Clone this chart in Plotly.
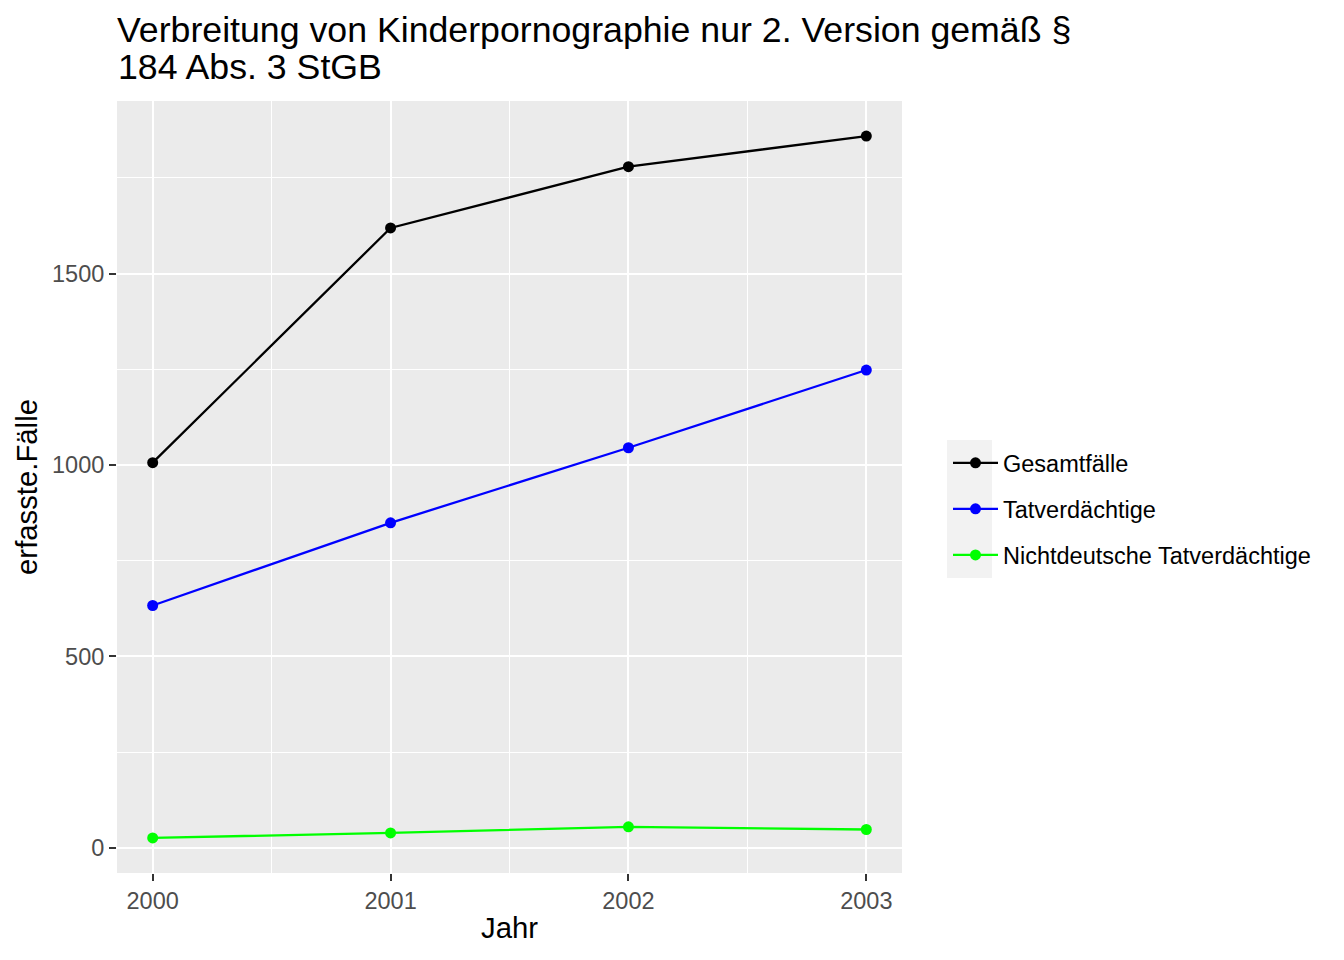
import plotly.graph_objects as go

years = [2000, 2001, 2002, 2003]
gesamtfaelle = [1006, 1619, 1779, 1859]
tatverdaechtige = [633, 849, 1045, 1248]
nichtdeutsche = [26, 39, 55, 48]

series_names = ["Gesamtfälle", "Tatverdächtige", "Nichtdeutsche Tatverdächtige"]
series_values = [gesamtfaelle, tatverdaechtige, nichtdeutsche]
series_colors = ["#000000", "#0000FF", "#00FF00"]

x_ticks = [2000, 2001, 2002, 2003]
y_ticks = [0, 500, 1000, 1500]

FONT = "Liberation Sans, Arial, Helvetica, sans-serif"

fig = go.Figure()
for name, vals, col in zip(series_names, series_values, series_colors):
    fig.add_trace(go.Scatter(
        x=years, y=vals, name=name, legendgroup=name,
        mode="lines+markers",
        line=dict(color=col, width=2.3),
        marker=dict(color=col, size=11),
    ))

all_vals = [v for s in series_values for v in s]
lo, hi = min(all_vals), max(all_vals)
pad = (hi - lo) * 0.05

OFF = 8  # page body margin
W, H = 1344, 960
L, T = 117 - OFF, 101 - OFF
R, B = W - (902 - OFF), H - (873 - OFF)
pw, ph = W - L - R, H - T - B

def px_x(p):
    return (p - OFF - L) / pw

def px_y(p):
    return (H - B - (p - OFF)) / ph

fig.update_layout(
    width=W, height=H,
    margin=dict(l=L, r=R, t=T, b=B, autoexpand=False),
    paper_bgcolor="white",
    plot_bgcolor="#EBEBEB",
    font=dict(family=FONT, color="black"),
    title=dict(
        text="Verbreitung von Kinderpornographie nur 2. Version gemäß §",
        x=0, xref="paper", xanchor="left",
        y=1 - 9 / H, yref="container", yanchor="top",
        font=dict(size=35.7, color="black", family=FONT),
        pad=dict(l=0, t=0, b=0, r=0),
    ),
    showlegend=True,
    legend=dict(
        x=px_x(948), xanchor="left",
        y=px_y(509), yanchor="middle",
        bgcolor="rgba(0,0,0,0)",
        font=dict(size=23.5, color="black", family=FONT),
        traceorder="grouped",
        tracegroupgap=12.5,
        itemwidth=45,
    ),
)

fig.add_annotation(
    text="184 Abs. 3 StGB",
    xref="paper", yref="paper",
    x=0, xanchor="left",
    y=px_y(46), yanchor="top",
    showarrow=False,
    font=dict(size=35.7, color="black", family=FONT),
    borderpad=0,
)

fig.add_shape(
    type="rect", xref="paper", yref="paper",
    x0=px_x(947), x1=px_x(992), y0=px_y(578), y1=px_y(440),
    fillcolor="#F2F2F2", line=dict(width=0), layer="below",
)

fig.update_xaxes(
    range=[years[0] - 0.15, years[-1] + 0.15],
    tickmode="array", tickvals=x_ticks, ticktext=[str(t) for t in x_ticks],
    showgrid=True, gridcolor="white", gridwidth=2,
    minor=dict(dtick=0.5, tick0=2000, showgrid=True, gridcolor="white", gridwidth=1, ticklen=0),
    zeroline=False, showline=False,
    ticks="outside", ticklen=7, tickwidth=1.5, tickcolor="#333333",
    tickfont=dict(size=23.5, color="#4D4D4D", family=FONT),
    title=dict(text="Jahr", font=dict(size=29.3, color="black", family=FONT), standoff=4),
)
fig.update_yaxes(
    range=[lo - pad, hi + pad],
    tickmode="array", tickvals=y_ticks, ticktext=[str(t) for t in y_ticks],
    showgrid=True, gridcolor="white", gridwidth=2,
    minor=dict(dtick=250, tick0=0, showgrid=True, gridcolor="white", gridwidth=1, ticklen=0),
    zeroline=False, showline=False,
    ticks="outside", ticklen=7, tickwidth=1.5, tickcolor="#333333",
    tickfont=dict(size=23.5, color="#4D4D4D", family=FONT),
    title=dict(text="erfasste.Fälle", font=dict(size=29.3, color="black", family=FONT), standoff=5),
)

fig.write_html("out.html")
